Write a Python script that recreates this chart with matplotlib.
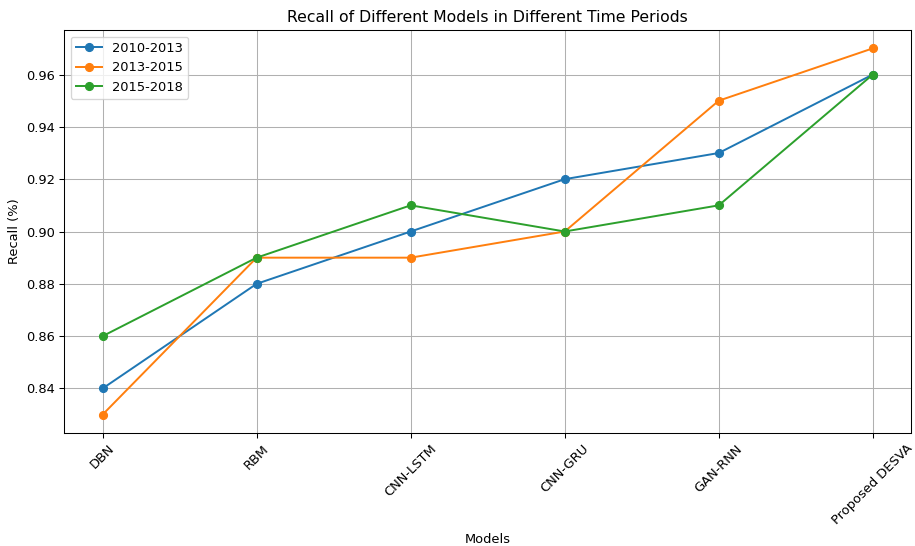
import matplotlib
matplotlib.use('Agg')
import matplotlib.pyplot as plt

# data
models = ['DBN', 'RBM', 'CNN-LSTM', 'CNN-GRU', 'GAN-RNN', 'Proposed DESVA']
recall_2010_2013 = [0.84, 0.88, 0.90, 0.92, 0.93, 0.96]
recall_2013_2015 = [0.83, 0.89, 0.89, 0.90, 0.95, 0.97]
recall_2015_2018 = [0.86, 0.89, 0.91, 0.90, 0.91, 0.96]

# reference looks like a slightly downscaled render, so use a lower dpi
dpi = 94
fig = plt.figure(figsize=(915 / dpi, 546 / dpi), dpi=dpi)
ax = fig.add_axes([0.070, 0.207, 0.926, 0.738])

ax.plot(models, recall_2010_2013, marker='o', label='2010-2013')
ax.plot(models, recall_2013_2015, marker='o', label='2013-2015')
ax.plot(models, recall_2015_2018, marker='o', label='2015-2018')

ax.set_title('Recall of Different Models in Different Time Periods')
ax.set_xlabel('Models')
ax.set_ylabel('Recall (%)')
ax.legend(loc='upper left')
ax.grid(True)
plt.setp(ax.get_xticklabels(), rotation=45)

fig.savefig('out.png', dpi=dpi)
